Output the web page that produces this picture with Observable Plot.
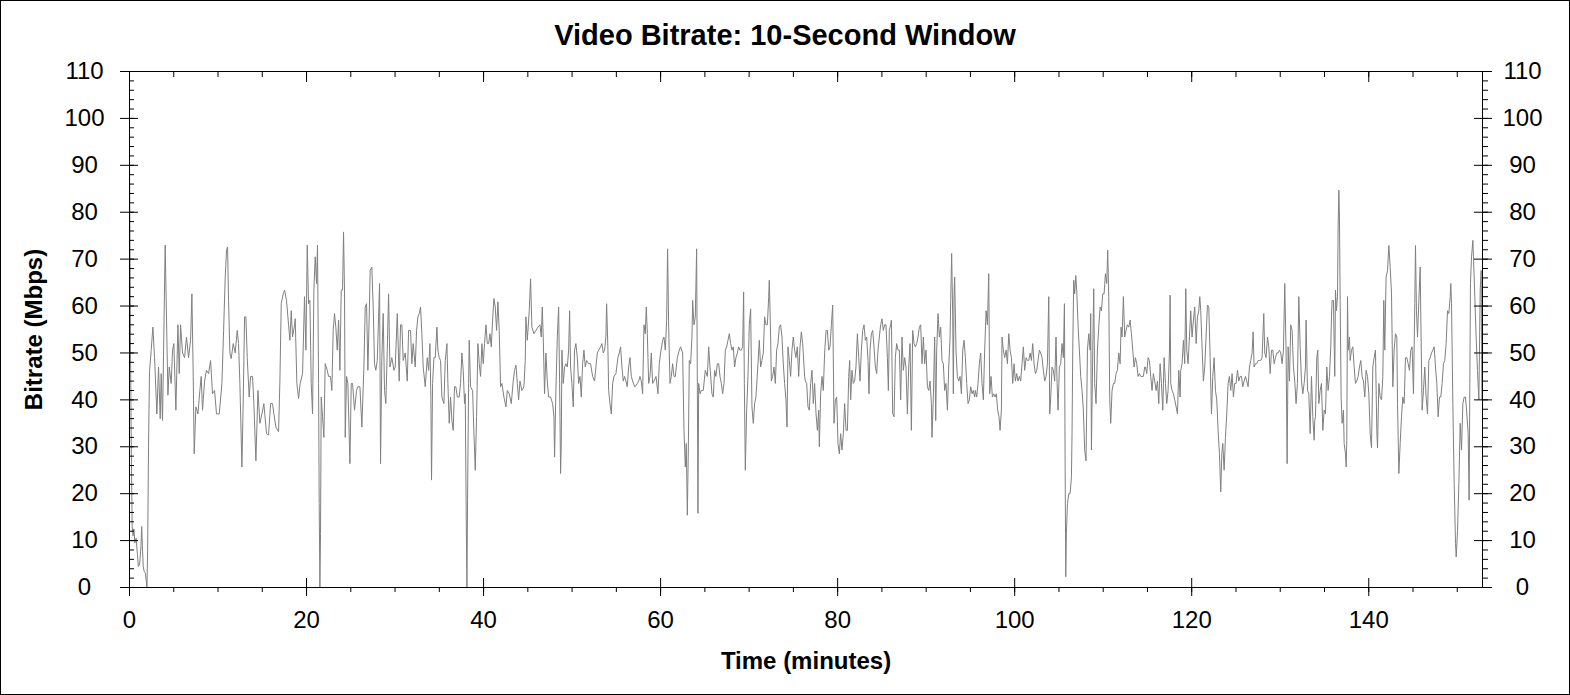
<!DOCTYPE html>
<html><head><meta charset="utf-8">
<script src="https://cdn.jsdelivr.net/npm/d3@7"></script>
<script src="https://cdn.jsdelivr.net/npm/@observablehq/plot@0.6"></script>
<style>
html,body{margin:0;padding:0;background:#fff;}
#wrap{position:relative;width:1570px;height:695px;overflow:hidden;background:#fff;font-family:"Liberation Sans",Arial,sans-serif;}
#title{position:absolute;left:0;top:20.5px;width:1570px;text-align:center;font-weight:bold;font-size:29px;line-height:29px;color:#000;}
#chart{position:absolute;left:0;top:56px;}
#border{position:absolute;left:0;top:0;width:1570px;height:695px;box-sizing:border-box;border:1px solid #000;pointer-events:none;}
</style></head><body>
<div id="wrap"><div id="title">Video Bitrate: 10-Second Window</div><div id="chart"></div><div id="border"></div></div>
<script>
const minutes = [
0,0.05,0.12,0.2,0.3,0.4,0.5,0.6,0.75,0.9,1.0,1.15,1.3,1.38,1.45,1.55,1.65,1.8,1.97,2.05,2.15,
2.26,2.45,2.64,2.83,3.09,3.28,3.47,3.58,3.73,4.03,4.34,4.49,4.71,4.86,5.01,5.24,5.47,5.62,5.77,5.99,6.22,6.44,6.67,6.90,7.05,7.20,7.31,7.50,7.73,7.95,8.10,8.25,8.48,8.70,8.93,9.16,9.38,9.61,9.83,10.14,10.44,10.63,10.81,10.96,11.08,11.19,11.34,11.49,11.72,11.94,12.17,12.32,12.47,12.70,12.85,13.00,13.15,13.30,13.52,13.68,13.90,14.05,14.28,14.51,14.73,14.96,15.18,15.48,15.71,15.94,16.16,16.31,16.54,16.84,16.99,17.14,17.37,17.52,17.74,17.97,18.12,18.27,18.42,18.65,
18.72,18.91,19.10,19.28,19.55,19.77,19.93,20.08,20.23,20.38,20.53,20.68,20.83,20.98,21.13,21.24,21.36,21.43,21.51,21.58,21.66,21.81,21.96,22.11,22.34,22.49,22.71,22.86,23.01,23.16,23.31,23.47,23.62,23.77,23.92,24.07,24.18,24.29,24.37,24.52,24.67,24.90,25.05,25.20,25.42,25.65,25.80,26.03,26.25,26.48,26.63,26.78,26.93,27.08,27.19,27.38,27.53,27.68,27.83,27.99,28.14,28.25,28.36,28.51,28.66,28.81,28.96,29.12,29.27,29.42,29.64,29.87,30.02,30.25,30.47,30.62,30.77,30.92,31.15,31.38,31.53,31.75,31.90,32.05,32.28,32.43,32.58,32.73,32.88,33.03,33.18,33.41,33.64,33.79,33.94,34.05,34.12,34.24,34.39,34.54,34.73,34.84,34.99,35.14,35.29,35.52,35.67,35.86,35.97,36.12,36.27,36.42,36.57,36.72,36.87,37.03,37.25,37.40,37.55,37.70,37.85,
37.93,38.04,38.12,38.19,38.31,38.38,38.53,38.76,38.91,39.06,39.21,39.36,39.51,39.66,39.81,39.96,40.11,40.27,40.42,40.57,40.72,40.87,41.02,41.17,41.32,41.47,41.62,41.77,41.92,42.07,42.30,42.53,42.68,42.90,43.13,43.35,43.50,43.66,43.81,43.96,44.11,44.33,44.56,44.71,44.78,44.94,45.16,45.31,45.46,45.69,45.91,46.14,46.37,46.52,46.63,46.74,46.89,47.04,47.20,47.35,47.57,47.80,47.95,48.02,48.17,48.33,48.48,48.59,48.70,48.78,48.85,49.00,49.15,49.30,49.46,49.61,49.72,49.83,49.98,50.13,50.28,50.43,50.59,50.74,50.89,51.04,51.19,51.34,51.49,51.64,51.87,52.09,52.32,52.54,52.69,52.85,53.00,53.22,53.37,53.52,53.67,53.82,53.90,54.05,54.13,54.28,54.43,54.58,54.73,54.95,55.18,55.33,55.48,55.63,55.78,55.93,56.08,56.23,56.39,56.54,56.69,56.84,57.07,
57.14,57.37,57.52,57.67,57.82,57.97,58.12,58.27,58.38,58.50,58.65,58.80,58.95,59.10,59.25,59.48,59.70,59.85,60.00,60.23,60.38,60.53,60.68,60.79,60.91,61.06,61.21,61.36,61.51,61.66,61.89,62.11,62.26,62.49,62.64,62.79,62.90,63.02,63.13,63.24,63.39,63.54,63.62,63.77,63.92,64.07,64.15,64.22,64.30,64.45,64.60,64.82,65.05,65.28,65.43,65.58,65.80,65.95,66.10,66.25,66.41,66.56,66.71,66.86,67.01,67.16,67.31,67.46,67.61,67.76,67.91,68.06,68.21,68.36,68.51,68.67,68.82,68.97,69.12,69.27,69.38,69.46,69.57,69.72,69.87,70.02,70.17,70.32,70.47,70.62,70.77,71.00,71.15,71.30,71.45,71.60,71.75,71.90,72.06,72.21,72.28,72.43,72.51,72.66,72.81,72.96,73.11,73.26,73.41,73.56,73.71,73.86,74.01,74.16,74.28,74.39,74.54,74.69,74.84,74.99,75.14,75.29,75.44,75.60,75.75,75.90,76.05,76.27,
76.35,76.50,76.65,76.80,76.95,77.10,77.25,77.40,77.56,77.71,77.86,77.93,78.08,78.23,78.38,78.53,78.69,78.84,78.99,79.14,79.29,79.44,79.59,79.74,79.89,80.04,80.19,80.34,80.49,80.64,80.79,80.95,81.10,81.25,81.36,81.47,81.62,81.77,81.92,82.07,82.23,82.38,82.53,82.68,82.83,82.98,83.13,83.28,83.43,83.54,83.66,83.81,83.96,84.11,84.26,84.41,84.56,84.71,84.86,85.01,85.16,85.31,85.46,85.62,85.73,85.84,85.99,86.07,86.22,86.37,86.52,86.67,86.82,86.97,87.12,87.27,87.42,87.57,87.72,87.88,88.03,88.18,88.33,88.48,88.63,88.78,88.93,89.08,89.23,89.38,89.53,89.68,89.83,89.98,90.14,90.29,90.44,90.59,90.66,90.81,90.96,91.08,91.19,91.34,91.49,91.64,91.79,91.94,92.09,92.24,92.40,92.55,92.70,92.77,92.88,93.00,93.07,93.15,93.22,93.37,93.52,93.68,93.83,93.98,94.13,94.28,94.43,94.58,94.73,94.88,95.03,95.18,95.33,95.48,
95.56,95.71,95.86,96.01,96.16,96.31,96.46,96.61,96.77,96.92,97.07,97.18,97.33,97.48,97.63,97.78,97.93,98.08,98.23,98.35,98.50,98.57,98.72,98.87,99.03,99.18,99.33,99.48,99.63,99.78,99.93,100.08,100.23,100.38,100.53,100.68,100.83,100.98,101.13,101.29,101.44,101.59,101.74,101.89,102.04,102.19,102.34,102.49,102.64,102.79,102.94,103.09,103.24,103.39,103.55,103.70,103.85,103.96,104.07,104.22,104.37,104.52,104.67,104.79,104.90,105.05,105.20,105.35,105.50,105.62,105.69,105.77,105.84,105.96,106.11,106.26,106.41,106.48,106.56,106.67,106.78,106.90,107.01,107.16,107.31,107.46,107.61,107.76,107.91,108.06,108.22,108.37,108.52,108.59,108.67,108.82,108.93,109.04,109.19,109.35,109.50,109.65,109.80,109.95,110.10,110.25,110.40,110.51,110.63,110.74,110.85,111.00,111.15,111.30,111.45,111.60,111.76,111.91,112.02,112.13,112.28,112.43,112.58,112.73,112.89,113.04,113.19,113.34,113.49,113.64,113.79,113.94,114.09,114.24,114.39,114.54,114.69,
114.77,114.92,115.07,115.22,115.37,115.52,115.67,115.82,115.98,116.13,116.28,116.43,116.58,116.73,116.88,117.03,117.18,117.33,117.48,117.56,117.63,117.78,117.93,118.08,118.24,118.39,118.54,118.69,118.76,118.91,119.06,119.21,119.33,119.44,119.59,119.74,119.89,120.04,120.19,120.34,120.50,120.65,120.80,120.91,121.02,121.17,121.32,121.47,121.62,121.78,121.93,122.08,122.23,122.38,122.53,122.68,122.83,122.98,123.13,123.28,123.40,123.51,123.66,123.81,123.96,124.11,124.26,124.41,124.56,124.71,124.86,125.01,125.17,125.32,125.47,125.62,125.77,125.92,126.07,126.22,126.37,126.52,126.67,126.82,126.94,127.05,127.20,127.35,127.50,127.65,127.80,127.95,128.14,128.25,128.40,128.56,128.71,128.86,129.01,129.16,129.31,129.46,129.61,129.76,129.91,130.06,130.21,130.36,130.51,130.66,130.78,130.89,131.04,131.19,131.34,131.49,131.64,131.79,131.94,132.10,132.25,132.40,132.55,132.70,132.85,132.92,133.08,133.23,133.38,133.53,133.68,133.83,133.90,
133.98,134.13,134.24,134.36,134.51,134.66,134.81,134.96,135.11,135.26,135.41,135.56,135.71,135.79,135.86,136.01,136.16,136.24,136.35,136.47,136.54,136.62,136.69,136.77,136.88,136.99,137.14,137.22,137.37,137.45,137.52,137.60,137.67,137.82,137.90,138.05,138.20,138.35,138.50,138.65,138.80,138.95,139.10,139.25,139.40,139.55,139.70,139.86,140.01,140.16,140.31,140.46,140.61,140.76,140.91,140.99,141.14,141.29,141.44,141.59,141.70,141.81,141.96,142.12,142.27,142.42,142.57,142.72,142.87,143.02,143.17,143.25,143.40,143.55,143.70,143.85,144.00,144.15,144.30,144.45,144.60,144.75,144.90,145.05,145.20,145.28,145.39,145.51,145.66,145.81,145.88,146.03,146.18,146.33,146.48,146.64,146.79,146.94,147.09,147.24,147.39,147.54,147.69,147.84,147.99,148.14,148.29,148.44,148.59,148.74,148.90,149.05,149.20,149.27,149.35,149.50,149.65,149.80,149.88,150.03,150.18,150.33,150.48,150.63,150.78,150.93,151.08,151.23,151.34,151.42,151.49,151.61,151.76,151.83,151.98,152.13,152.28,152.44,152.59,152.70,152.78
];
const mbps = [
93,75,50,30,13,11,12.5,9.5,10.5,7,4.5,5,9,13,9,4.5,3.5,3,0,8,30,
46,50.5,55.5,49,37,47,36,45.6,35.6,73,41,47,43.5,50.5,52,37.8,56,45.6,56,50,49,53.4,49,52.7,62.6,45,28.5,38.5,37,42,45,37.8,44,46.3,45.6,48.4,41.3,42,37,37,43.5,54.8,66,71.9,72.6,61.2,50,48.8,52,50,54.8,52,43.5,25.7,40,57.7,57.7,49,40.6,45,45,39.2,27,42,35,37,39.2,32.8,32.5,39.2,39.2,37,34.2,33.2,44,60.5,62.6,63.4,61.2,56,52.7,59,53.4,56,
57.3,43.5,40.3,43.5,45.6,62,50.6,73,60.5,61.2,43.5,37,63.4,70.5,64.8,73,43.5,17.9,0,11.5,40.6,36.4,32,47.7,46.3,45,45,42,54.8,58.4,55.5,50.6,57,46.3,63.4,63.4,75.8,63.4,32,45,43.5,26.4,43.5,43.5,37.8,42,42.8,42.8,34.2,47,59.8,60.5,46.3,57.7,67.6,68.3,59.8,47.7,46.3,48.4,57.7,64.8,26.4,49,58.4,42,39.2,50.6,62.6,47,49,46.3,47,58.4,44,56,56,48.4,50,44,54.8,54.8,47.7,52,47,54.8,57.7,58.4,59.8,54.1,47,42.8,49,46.3,52,40,22.9,43.5,49,49,55.5,50.6,49,48.4,40.6,39.2,48.4,52,43.5,35,40.6,35.6,33.5,42.8,42.8,40.6,40.6,43.5,50,46.3,39.2,
41.3,15,0,18.6,43.5,52.7,42.8,42,32.8,25,36.4,52,47.7,45,52,47.7,52,56,52,52,54.1,51.3,57,61.6,59.8,54.8,60.9,54.8,42.8,43.5,40.6,38.5,42,41.3,39.2,44,46.3,47.4,43.5,40,44,42,42.8,48.4,57.7,52.7,59,65.8,55.5,54.1,54.8,55.5,56,53.4,59.8,53.4,41.3,50,44,40.6,40.6,39.2,36.4,27.8,42,53.4,59.8,43.5,24.3,30.7,50.6,43.5,47,47.7,47,50.6,59,47,43.5,38.5,50.6,52,49,43.5,45,40.6,47.7,50.6,47,48.4,47.7,47.7,45,44,47,50,50.6,51.3,52,50,50.6,53.4,60.5,50.6,42,39.2,37,43.5,45,45.6,49,50,51.3,47,44,45,44,42.8,47,49,45,44,42.8,
42.8,43.5,44,45,44,41.3,56,54.1,59.8,54.1,43.5,45,50,43.5,44,45,41.3,47.7,50,52.7,53.4,50.6,57,72.2,55.5,43.5,45,47.7,45,45,49,50.6,51.3,50,33.5,25.7,30.7,15.4,29.3,48.4,47.7,53.4,61.2,56,57.7,72.2,42.8,15.8,43.5,41.3,42,42,46.3,45,51.3,47,41.3,40.6,46.3,45,47.7,47.7,45,43.5,41.3,43.5,50.6,51.3,52.7,54.1,52,50.6,51.3,47,49,50,51.3,50.6,50.6,51.3,63,43.5,25,37.8,45,56,59.4,38.5,35,39.2,40.6,47.7,52.7,47,48.4,50,57.7,56,56,62,65.5,53.4,44,45,47,43.5,50.6,52,55.5,56,53.4,47.7,43.5,40,34.2,51.3,48.4,45,50.6,53.4,50.6,49,51.3,45,51.3,54.5,52,45,
44,43.5,38.5,37.8,43.5,46.3,39.2,43.5,37,33.5,37.8,30,41.3,45,42,50,54.8,54.8,50.6,51.3,56,60.2,35,40,40.6,30.7,28.5,32.8,29.3,32.8,39.2,33.5,33.5,45,48.4,40,46.3,43.5,44,47,54.1,49,44,50.6,54.8,56,52.7,53.4,48.4,41.3,50.6,54.1,54.8,51.3,47,45.6,50.6,53.4,56,57.3,54.8,56,56,49,42,54.8,56,57,37,36.4,49,52,50.6,50.6,40,53.4,46.3,49,47,37,47,52,33.5,54.8,52,51.3,52,53.4,55.5,56,47.7,53.4,47.7,50.6,42.8,42,44,39.2,32,40.6,53.4,35.6,50.6,58.4,53.4,55.5,48.4,47.7,42,43.5,37.8,47,53.4,61.2,71.2,57.7,41.3,62.6,66.2,50.6,45,44,45,41.3,50.6,52.7,49,43.5,39.2,40,42.8,41.3,42,40.6,
42,40.6,43.5,47.7,50,43.5,40,50.6,59,56,66.9,41.3,45,40.6,41.3,40.6,41.3,37.8,36.4,33.5,37.8,53.4,50.6,49,50.6,47.7,54.1,50.6,49,43.5,47.7,44,45.6,44,45,44,47.7,51.3,46.3,49,48.4,48.4,50,48.4,52,47.7,45.6,46.3,48.4,50.6,50,49,46.3,44,45,47.7,62,37,40.6,47,46.3,44,53.4,43.5,37.8,47,47.7,52,49,60.5,29.3,2.3,11.5,17.9,20,20,23.6,32.8,50.6,65.5,62.6,66.5,63.4,56,50.6,45,42,37.8,29.3,27,50.6,54.1,50.6,58.4,29.3,50.6,63.7,43.5,39.2,50.6,55.5,59.8,59,62.6,62.6,66.9,64.8,71.9,62,40,35,42,43.5,43.5,45.6,46.3,50,47.7,55.5,53.4,62,53.4,54.8,56,55.5,57,54.1,50.6,47,49,47.7,45,45.6,45,45,45,47,
47,45.6,49,48.4,45,42,45.6,44,42,44,39.2,47.7,43.5,37.8,49,43.5,39.2,42,50,62.3,43.5,42,41.3,40,38.5,37,46.3,40.6,46.3,47.7,52.7,47.7,63.7,50.6,47.7,53.4,59,53.4,57,59.8,52,57.7,59,62,59,51.3,44,47,53.4,60.2,59.8,49,37,45,49,42,40,33.5,28.5,20.4,28.5,30.7,25,32,37,43.5,45,42,45.6,40.6,43.5,43.5,46.3,44,45,45,42.8,44,45,44,42.8,47,48.4,50,54.5,47,47.7,47.7,48.4,48.4,48.4,49,58.4,50,49,53.4,51.3,45.6,50.6,50.6,47.7,49,50,50,50.6,50,47.7,50.6,64.8,50.6,26.4,51.3,44,56,54.8,47,44,39.2,43.5,62,51.3,44,41.3,43.5,47,57,42,41.3,32.8,45,36.4,31.4,35.6,
36.4,49,50.6,39.2,42,43.5,33.5,37.8,37,47,42,45,51.3,57.7,61.2,61.2,45,63.4,59,62,76.8,84.7,79,61.2,40.6,35,37.8,30.7,28.5,25.7,31.4,62,50.6,53.4,48.4,50.6,51.3,47,43.5,44,45,47,48.4,45,44,40.6,46.3,45,41.3,32.8,29.8,47,49,50.6,33.5,29.8,43.5,40.6,40,45,61.2,50.6,66.2,67.6,72.9,68.3,62.6,42.8,50.6,54.1,53.4,39.2,24.3,30.7,36.4,40.6,39.2,49,49,47.7,46.3,50.6,51.3,41.3,60.5,72.9,59,53.4,61.2,68.3,57.7,37.8,42,47,40.6,37,48.4,49,50,50.6,51.3,47,43.5,36.4,40.6,40.6,43.5,47.7,48.4,52,59,58.4,62,64.8,60.5,39.2,22.2,9.4,6.5,12.2,22.2,35,29.3,39.2,40.6,40.6,37,32.8,18.6,43.5,64.8,70.5,74,70.5,62,53.4,46.3,40,63.4,67.6,40
];
const xMajorTicks = [0, 20, 40, 60, 80, 100, 120, 140];
const yMajorTicks = [0, 10, 20, 30, 40, 50, 60, 70, 80, 90, 100, 110];
const xMinorTicks = d3.range(0, 153, 5);
const yMinorTicks = d3.range(0, 111, 2);
const xTitle = "Time (minutes)";
const yTitle = "Bitrate (Mbps)";

const data = minutes.map((t, i) => ({t, v: mbps[i]}));
const font = '"Liberation Sans", Arial, sans-serif';

const chart = Plot.plot({
  width: 1570,
  height: 639,
  marginLeft: 129,
  marginRight: 88,
  marginTop: 15,
  marginBottom: 108,
  style: {fontFamily: font, background: "#fff", color: "#000"},
  x: {domain: [0, 152.85]},
  y: {domain: [0, 110]},
  marks: [
    Plot.line(data, {x: "t", y: "v", stroke: "#808080", strokeWidth: 1}),
    Plot.frame({stroke: "#000", strokeWidth: 1}),
    // left axis
    Plot.axisY({ticks: yMinorTicks, anchor: "left", tickSize: 5, dx: 5, fill: "none", stroke: "#000"}),
    Plot.axisY({ticks: yMajorTicks, anchor: "left", tickSize: 18, dx: 9, fill: "none", stroke: "#000"}),
    Plot.axisY({ticks: yMajorTicks, anchor: "left", tickSize: 0, tickPadding: 45, textAnchor: "middle", fontSize: 24, fill: "#000", label: null}),
    // right axis
    Plot.axisY({ticks: yMinorTicks, anchor: "right", tickSize: 5, fill: "none", stroke: "#000"}),
    Plot.axisY({ticks: yMajorTicks, anchor: "right", tickSize: 18, dx: -9, fill: "none", stroke: "#000"}),
    Plot.axisY({ticks: yMajorTicks, anchor: "right", tickSize: 0, tickPadding: 40, textAnchor: "middle", fontSize: 24, fill: "#000", label: null}),
    // bottom axis
    Plot.axisX({ticks: xMinorTicks, anchor: "bottom", tickSize: 5, fill: "none", stroke: "#000"}),
    Plot.axisX({ticks: xMajorTicks, anchor: "bottom", tickSize: 18, dy: -9, fill: "none", stroke: "#000"}),
    Plot.axisX({ticks: xMajorTicks, anchor: "bottom", tickSize: 0, tickPadding: 23, fontSize: 24, fill: "#000", label: null}),
    // top axis (ticks only, inward)
    Plot.axisX({ticks: xMinorTicks, anchor: "top", tickSize: 5, dy: 5, fill: "none", stroke: "#000"}),
    Plot.axisX({ticks: xMajorTicks, anchor: "top", tickSize: 10, dy: 10, fill: "none", stroke: "#000"}),
    // axis titles
    Plot.text([xTitle], {text: d => d, frameAnchor: "bottom", dy: 81, lineAnchor: "bottom", fontSize: 24, fontWeight: "bold", fill: "#000"}),
    Plot.text([yTitle], {text: d => d, frameAnchor: "left", dx: -88, rotate: -90, textAnchor: "middle", lineAnchor: "bottom", fontSize: 24, fontWeight: "bold", fill: "#000"})
  ]
});
document.getElementById("chart").appendChild(chart);
</script>
</body></html>
